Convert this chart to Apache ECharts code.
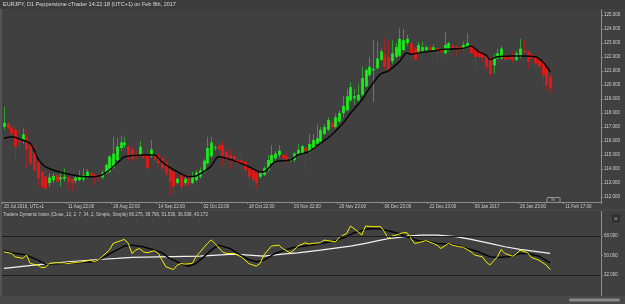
<!DOCTYPE html>
<html>
<head>
<meta charset="utf-8">
<script src="https://cdn.jsdelivr.net/npm/echarts/dist/echarts.min.js"></script>
<style>
  html, body { margin: 0; padding: 0; background: #404040; }
  #chart { width: 625px; height: 304px; }
</style>
</head>
<body>
<div id="chart"></div>
<script>
// EURJPY D1 candles + Traders Dynamic Index

const slotCount = 159; // candle slots incl. empty space on the right
const tickSlots = [0, 17, 29, 41, 53, 65, 77, 89, 101, 113, 125, 137, 149];
const tickLabels = ['20 Jul 2016, UTC+1', '11 Aug 22:00', '29 Aug 22:00', '14 Sep 22:00',
  '02 Oct 22:00', '18 Oct 22:00', '03 Nov 22:00', '20 Nov 23:00', '06 Dec 23:00',
  '22 Dec 23:00', '09 Jan 2017', '26 Jan 23:00', '11 Feb 17:00'];
const priceTicks = [112, 113, 114, 115, 116, 117, 118, 119, 120, 121, 122, 123, 124, 125];
const tdiLevels = [32, 50, 68];

// [open, close, low, high]
const candles = [
  [117.0,117.3,116.8,118.45],[117.26,116.9,116.8,117.3],[116.98,116.5,116.2,117.1],[116.8,115.6,114.5,117.0],
  [116.0,115.9,115.3,117.1],[116.07,116.48,115.8,116.9],[116.26,115.36,114.05,116.8],[115.8,114.4,114.3,115.95],
  [115.24,113.9,113.8,115.6],[114.5,113.33,112.74,114.6],[113.8,112.74,112.6,113.9],[113.45,112.62,112.4,113.5],
  [113.0,113.4,112.74,113.7],[113.2,113.5,113.0,113.7],[113.57,113.1,112.6,113.7],[113.26,113.4,112.74,113.8],
  [113.3,113.45,113.1,114.05],[113.4,113.1,112.5,113.5],[113.3,112.98,112.4,113.4],[113.17,113.38,113.0,113.6],
  [113.2,113.45,113.1,113.9],[113.26,113.57,113.1,114.05],[113.45,113.8,113.3,114.0],[113.7,113.55,113.4,113.8],
  [113.57,113.33,112.86,113.7],[113.5,113.4,113.2,113.6],[113.4,113.74,113.3,113.9],[113.7,114.29,113.6,114.4],
  [113.8,114.9,113.7,115.0],[114.1,115.1,114.0,116.3],[114.64,115.6,114.5,116.2],[115.5,115.9,115.3,116.4],
  [115.7,115.9,115.5,116.3],[115.55,114.8,114.6,115.7],[115.4,114.7,114.6,115.6],[115.1,114.9,114.7,115.3],
  [115.0,115.6,114.9,116.0],[115.0,114.8,114.7,115.3],[115.0,114.05,113.9,115.6],[114.9,115.4,114.8,116.07],
  [115.0,114.7,114.4,115.3],[114.9,114.4,114.2,115.1],[114.76,114.05,113.9,114.9],[114.4,113.7,113.5,114.6],
  [114.05,113.1,112.14,114.2],[113.8,112.74,112.14,113.9],[113.0,113.3,112.9,113.4],[113.57,112.74,112.3,113.7],
  [113.0,113.3,112.8,113.5],[113.4,112.9,112.7,113.6],[113.0,113.5,112.9,113.8],[113.2,113.75,113.1,113.9],
  [113.45,113.9,113.3,114.1],[113.8,114.6,113.7,114.7],[114.4,115.5,114.3,116.3],[114.9,115.9,114.8,116.3],
  [115.5,115.55,115.3,115.7],[115.7,115.36,114.9,116.05],[115.7,114.9,114.2,116.0],[115.24,114.76,114.6,115.3],
  [115.0,114.64,114.0,115.4],[114.9,114.7,114.5,115.0],[114.64,114.4,114.3,114.8],[114.6,114.4,113.7,115.2],
  [114.5,113.93,113.5,114.6],[114.05,113.45,112.7,114.1],[113.93,113.2,112.74,114.0],[113.7,113.0,112.6,113.8],
  [113.45,113.7,113.3,113.8],[113.57,114.05,113.5,114.2],[113.93,114.64,113.8,115.0],[114.4,115.0,114.3,115.7],
  [114.76,115.1,114.6,115.3],[115.0,115.3,114.8,115.7],[115.0,114.76,114.6,115.1],[114.9,114.64,114.4,115.1],
  [114.6,114.65,114.5,114.8],[114.64,115.1,114.5,115.2],[115.0,115.36,114.9,115.8],[115.1,115.64,115.0,115.7],
  [115.5,115.3,113.8,115.6],[115.24,115.8,115.1,116.5],[115.5,116.07,115.4,116.5],[115.8,116.2,115.7,117.2],
  [115.95,116.8,115.9,117.0],[116.5,117.0,116.4,117.2],[116.8,117.5,116.7,117.7],[117.3,117.0,116.9,117.4],
  [117.0,117.7,116.9,117.95],[117.4,118.0,117.3,118.2],[118.0,118.5,117.7,119.2],[118.2,119.2,118.1,119.7],
  [118.9,119.85,118.8,120.2],[119.05,119.2,118.6,119.7],[118.9,119.3,118.8,120.1],[119.3,120.5,119.2,121.3],
  [119.9,121.07,119.8,121.2],[120.7,121.3,120.6,122.0],[121.05,121.15,118.8,123.2],[121.2,121.9,121.1,123.1],
  [121.8,122.4,121.7,122.6],[122.2,121.3,121.1,123.3],[122.0,121.07,120.9,123.1],[121.7,122.26,121.5,123.2],
  [122.0,122.7,121.9,123.0],[122.1,123.3,122.0,124.05],[122.5,123.2,122.4,124.0],[123.0,123.3,122.8,123.6],
  [122.98,122.26,121.8,123.1],[122.6,121.8,121.79,122.7],[122.38,122.86,122.2,123.1],[122.45,122.7,122.3,123.1],
  [122.5,122.7,122.4,122.8],[122.7,122.5,122.4,122.8],[122.5,122.7,122.4,122.9],[122.65,122.4,121.7,122.7],
  [122.55,122.35,121.8,122.6],[122.26,122.86,122.2,123.8],[122.5,123.0,122.4,123.1],[122.8,122.65,122.5,122.9],
  [122.75,122.55,122.1,122.8],[122.75,122.55,122.4,122.8],[122.6,122.86,122.5,123.1],[122.7,123.0,122.6,123.7],
  [122.86,122.26,122.2,123.0],[122.6,122.0,121.2,122.7],[122.4,122.0,121.9,122.5],[122.3,121.95,121.6,122.4],
  [122.14,121.3,121.07,122.2],[121.9,120.8,120.6,122.0],[121.4,122.0,120.8,122.2],[121.9,122.26,121.8,122.6],
  [121.9,122.6,121.8,122.8],[122.14,121.8,121.7,122.2],[122.0,121.85,121.7,122.1],[122.1,121.8,121.6,122.4],
  [121.8,122.26,121.7,122.4],[122.0,122.6,121.9,123.3],[122.45,122.35,122.2,123.2],[122.38,121.67,121.2,122.5],
  [122.2,121.9,121.4,122.3],[122.0,121.55,121.4,122.1],[121.8,121.3,121.2,121.9],[121.67,120.7,120.1,121.8],
  [121.2,120.0,119.64,121.3],[120.6,119.76,119.4,120.7]
];

// moving average on the price panel, [slot, price]
const maLine = [[0,116.19],[2,116.31],[5,116.07],[7,115.83],[8,115.36],[9,114.76],[10,114.4],[11,114.17],
  [13,113.93],[17,113.64],[22,113.45],[24,113.45],[26,113.57],[28,113.93],[31,114.64],[32,114.88],[37,115.0],
  [40,115.0],[41,114.76],[43,114.29],[46,113.81],[49,113.45],[51,113.5],[53,113.81],[55,114.2],[57,114.88],
  [61,114.6],[65,114.17],[68,113.81],[69,113.81],[72,114.52],[76,114.64],[78,115.0],[81,115.24],[84,115.83],
  [87,116.43],[90,117.26],[92,117.98],[95,118.93],[97,119.76],[99,120.5],[100,120.8],[102,121.0],[105,121.67],
  [107,122.31],[108,122.2],[111,122.33],[114,122.43],[117,122.55],[122,122.62],[124,122.79],[126,122.38],
  [128,122.14],[129,121.83],[131,122.02],[135,122.07],[138,122.07],[141,122.02],[143,121.67],[145,120.95]];

// TDI: RSI price line (yellow), signal (black), market base (white)
const tdiPrice = [[0,53.4],[2,51.9],[3,48.8],[5,47.3],[6,50.4],[7,42.6],[9,41.1],[10,38.9],[11,38.9],[12,42.6],
  [14,43.2],[16,43.2],[17,42.6],[19,43.5],[21,44.2],[23,45.7],[24,44.2],[25,45.7],[26,48.8],[28,55],[29,61.2],
  [31,63.7],[32,64.9],[33,61.2],[34,51.9],[35,55],[36,56.5],[37,53.4],[38,52.5],[40,54.4],[41,51.9],[42,45.7],
  [43,39.5],[45,37],[46,41.1],[47,42.6],[48,42],[50,42.6],[51,48.8],[52,53],[54,61],[55,64.5],[56,61.2],[58,53.4],
  [59,51.9],[61,51.9],[63,48.8],[65,42.6],[67,40.1],[68,42.6],[69,50.4],[71,58.7],[73,59.6],[74,56.5],[76,52.5],
  [77,55],[78,58.7],[80,61.8],[81,60.6],[82,61.2],[84,61.8],[85,64.3],[86,63.7],[88,62.7],[89,66.8],[91,70.5],
  [92,77.3],[94,72],[95,68.9],[96,77.3],[98,76.7],[100,76.7],[101,72],[102,65.8],[103,68],[104,68.9],[105,69.9],
  [106,71.1],[107,71.1],[109,61.2],[110,61.8],[112,63.7],[114,61.2],[115,59.6],[116,56.5],[118,61.2],[119,59.6],
  [121,58.1],[122,57.5],[124,53.4],[125,50.4],[127,48.8],[128,44.2],[129,41.1],[131,48.8],[132,55.6],[133,51.9],
  [135,49.4],[136,51.3],[137,55],[139,52.5],[140,48.2],[142,45.7],[144,41.1],[145,37]];
const tdiSignal = [[0,54.4],[2,52.5],[6,50.4],[9,45.7],[11,42],[15,42.6],[19,43.2],[24,44.2],[26,47.3],[29,53.4],
  [32,58.7],[34,59.6],[37,58.1],[40,55],[42,52.5],[44,47.3],[47,42.6],[49,40.1],[51,42.6],[53,48.5],[55,55],
  [57,59.6],[60,56.5],[62,51.9],[65,46.3],[67,44.2],[69,45.7],[72,51.9],[75,55.6],[77,57.5],[80,58.7],[84,61.2],
  [87,62.7],[91,67.4],[93,71.1],[96,74.2],[99,75.1],[102,73],[105,70.2],[107,67.4],[110,63.7],[113,62.7],
  [115,61.2],[118,60.6],[121,58.7],[123,56.5],[126,53.4],[129,48.8],[131,48.2],[134,48.8],[137,51.9],[139,51.9],
  [142,49.4],[145,43.2]];
const tdiBase = [[0,38],[8,41.1],[17,44.2],[25,46.3],[30,47.3],[34,48.2],[41,48.8],[52,49.4],[61,51.3],[65,50.4],
  [69,49.4],[74,51.3],[78,52.5],[84,55],[92,58.7],[96,61.2],[100,64.3],[102,65.5],[105,66.8],[107,68],[111,68.9],
  [115,68.9],[120,67.4],[124,64.9],[129,61.2],[133,58.1],[137,55.6],[142,53.4],[145,51.9]];

const categories = [];
for (let i = 0; i < slotCount; i++) categories.push('');
tickSlots.forEach((s, k) => { categories[s] = tickLabels[k]; });
const showTick = (idx) => tickSlots.indexOf(idx) >= 0;

const FONT = 'Liberation Sans';
const AXIS = '#8e8e8e';
const TXT = '#cfcfcf';

const chart = echarts.init(document.getElementById('chart'), null, { renderer: 'canvas' });

chart.setOption({
  backgroundColor: '#404040',
  animation: false,
  grid: [
    { left: 2, right: 24, top: 10, height: 192, outerBoundsMode: 'none' },
    { left: 2, right: 24, top: 223.1, height: 64.8, outerBoundsMode: 'none' }
  ],
  xAxis: [
    {
      type: 'category', gridIndex: 0, data: categories, boundaryGap: true,
      axisLine: { lineStyle: { color: AXIS, width: 1 } },
      axisTick: { show: true, length: 2, interval: showTick, lineStyle: { color: AXIS } },
      axisLabel: { interval: showTick, align: 'left', fontSize: 4.5, color: TXT, fontFamily: FONT, margin: 2 },
      splitLine: { show: false }
    },
    { type: 'category', gridIndex: 1, data: categories, boundaryGap: true, show: false }
  ],
  yAxis: [
    {
      type: 'value', gridIndex: 0, position: 'right', min: 111.643, max: 125.357, scale: true,
      axisLine: { show: true, lineStyle: { color: AXIS } },
      axisTick: { show: true, length: 2, customValues: priceTicks, lineStyle: { color: AXIS } },
      axisLabel: { customValues: priceTicks, formatter: v => v.toFixed(3), fontSize: 4.5, color: TXT, fontFamily: FONT, margin: 3 },
      splitLine: { show: false }
    },
    {
      type: 'value', gridIndex: 1, position: 'right', min: 20, max: 80,
      axisLine: { show: false },
      axisTick: { show: true, length: 2, customValues: tdiLevels, lineStyle: { color: AXIS } },
      axisLabel: { customValues: tdiLevels, formatter: v => v.toFixed(3), fontSize: 4.5, color: TXT, fontFamily: FONT, margin: 3 },
      splitLine: { show: false }
    }
  ],
  series: [
    {
      type: 'custom', xAxisIndex: 0, yAxisIndex: 0,
      data: candles.map((d, i) => [i, d[0], d[1], d[2], d[3]]),
      encode: { x: 0, y: [1, 2, 3, 4] },
      renderItem: function (params, api) {
        const i = api.value(0);
        const o = api.value(1), c = api.value(2), l = api.value(3), h = api.value(4);
        const pO = api.coord([i, o]), pC = api.coord([i, c]);
        const pL = api.coord([i, l]), pH = api.coord([i, h]);
        const up = c >= o;
        const w = 2.7;
        const x = Math.round(pO[0]) + 0.5;
        const top = Math.min(pO[1], pC[1]);
        const hgt = Math.max(1, Math.abs(pO[1] - pC[1]));
        return {
          type: 'group',
          children: [
            { type: 'line', shape: { x1: x, y1: pH[1], x2: x, y2: pL[1] },
              style: { stroke: up ? '#2f9f2f' : '#a02424', lineWidth: 1 } },
            { type: 'rect', shape: { x: x - w / 2, y: top, width: w, height: hgt },
              style: { fill: up ? '#16f016' : '#f01414' } }
          ]
        };
      }
    },
    {
      type: 'line', xAxisIndex: 0, yAxisIndex: 0, data: maLine, symbol: 'none', smooth: 0.3,
      lineStyle: { color: '#050505', width: 1.5 }, z: 3
    },
    {
      type: 'line', xAxisIndex: 1, yAxisIndex: 1, data: tdiBase, symbol: 'none',
      lineStyle: { color: '#f2f2f2', width: 1.2 },
      markLine: {
        silent: true, symbol: 'none', label: { show: false },
        lineStyle: { color: '#1c1c1c', width: 1, type: 'solid' },
        data: [{ yAxis: 68 }, { yAxis: 32 }]
      }
    },
    {
      type: 'line', xAxisIndex: 1, yAxisIndex: 1, data: tdiSignal, symbol: 'none',
      lineStyle: { color: '#050505', width: 1.5 }
    },
    {
      type: 'line', xAxisIndex: 1, yAxisIndex: 1, data: tdiPrice, symbol: 'none',
      lineStyle: { color: '#f5f000', width: 1 }
    }
  ],
  graphic: [
    { type: 'rect', shape: { x: 0, y: 0, width: 625, height: 9 }, style: { fill: '#3b3b3b' }, z: -1 },
    { type: 'text', left: 3, top: 1.5, style: { text: 'EURJPY, D1 Pepperstone cTrader 14:22:18 (UTC+1) on Feb 8th, 2017',
      fill: '#dcdcdc', fontSize: 5.5, fontFamily: FONT } },
    { type: 'rect', shape: { x: 0, y: 9, width: 2, height: 287 }, style: { fill: '#555555' }, z: -1 },
    { type: 'rect', shape: { x: 0, y: 209.5, width: 625, height: 1 }, style: { fill: '#4c4c4c' }, z: -1 },
    { type: 'line', shape: { x1: 601.5, y1: 211, x2: 601.5, y2: 296 }, style: { stroke: AXIS, lineWidth: 1 } },
    { type: 'text', left: 3, top: 212.5, style: { text: 'Traders Dynamic Index (Close, 13, 2, 7, 34, 2, Simple, Simple) 66.275, 36.796, 51.536, 36.938, 43.173',
      fill: TXT, fontSize: 4.5, fontFamily: FONT } },
    { type: 'rect', shape: { x: 612, y: 214.5, width: 8, height: 8 }, style: { fill: '#2e2e2e' } },
    { type: 'text', left: 613.6, top: 214.6, style: { text: '×', fill: '#aaaaaa', fontSize: 8, fontFamily: FONT } },
    { type: 'rect', shape: { x: 0, y: 296, width: 625, height: 8 }, style: { fill: '#484848' }, z: -1 },
    { type: 'rect', shape: { x: 569, y: 298.5, width: 51, height: 3, r: 1.5 }, style: { fill: '#8a8a8a' } },
    { type: 'rect', shape: { x: 547, y: 197.5, width: 13, height: 5, r: 1 }, style: { fill: '#404040', stroke: '#b0b0b0', lineWidth: 0.8 } },
    { type: 'text', left: 551.5, top: 197.7, style: { text: 'lh', fill: '#cfcfcf', fontSize: 4, fontFamily: FONT } }
  ]
});
</script>
</body>
</html>
